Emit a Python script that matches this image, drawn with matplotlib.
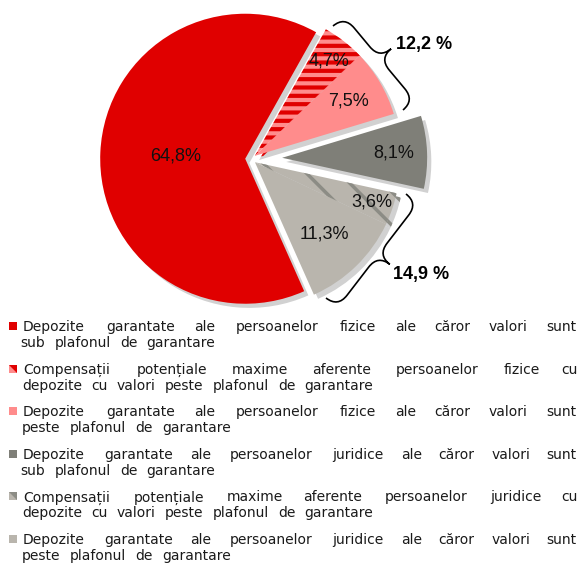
import numpy as np
import matplotlib
matplotlib.use("Agg")
import matplotlib.pyplot as plt
from matplotlib.patches import Rectangle, Polygon, PathPatch
from matplotlib.path import Path
import matplotlib.patheffects as pe
from matplotlib import font_manager

plt.rcParams['font.family'] = ['Liberation Sans', 'DejaVu Sans']
plt.rcParams['hatch.linewidth'] = 3.0

# ---------------- data ----------------
values = [64.8, 4.7, 7.5, 8.1, 3.6, 11.3]
value_labels = ["64,8%", "4,7%", "7,5%", "8,1%", "3,6%", "11,3%"]
legend_lines = [
    ["Depozite garantate ale persoanelor fizice ale căror valori sunt",
     "sub plafonul de garantare"],
    ["Compensații potențiale maxime aferente persoanelor fizice cu",
     "depozite cu valori peste plafonul de garantare"],
    ["Depozite garantate ale persoanelor fizice ale căror valori sunt",
     "peste plafonul de garantare"],
    ["Depozite garantate ale persoanelor juridice ale căror valori sunt",
     "sub plafonul de garantare"],
    ["Compensații potențiale maxime aferente persoanelor juridice cu",
     "depozite cu valori peste plafonul de garantare"],
    ["Depozite garantate ale persoanelor juridice ale căror valori sunt",
     "peste plafonul de garantare"],
]
groups = [[1, 2], [4, 5]]
group_labels = ["12,2 %", "14,9 %"]

# ---------------- style ----------------
face = ['#E00000', '#FF8C8C', '#FF8C8C', '#7F7F78', '#B9B5AD', '#B9B5AD']
hatches = [None, '--', None, None, '\\', None]
hatch_cols = [None, '#E00000', None, None, '#8C8C85', None]
offsets = [0.04, 0.035, 0.035, 0.215, 0.035, 0.035]
label_r = [0.48, 0.83, 0.75, 0.77, 0.85, 0.69]

W, H = 581, 565
fig = plt.figure(figsize=(W / 100, H / 100), dpi=100)

R = 145.0
cx, cy = 251.0, 159.0
ext = 1.6
ax = fig.add_axes([(cx - ext * R) / W, 1 - (cy + ext * R) / H,
                   2 * ext * R / W, 2 * ext * R / H])

wedges, _ = ax.pie(values, startangle=-66, counterclock=False, colors=face,
                   radius=1.0, wedgeprops=dict(linewidth=0))
ax.set_xlim(-ext, ext)
ax.set_ylim(-ext, ext)
ax.axis('off')

def span(idx):
    t1 = min(wedges[i].theta1 for i in idx)
    t2 = max(wedges[i].theta2 for i in idx)
    return 0.5 * (t1 + t2)

for i, w in enumerate(wedges):
    grp = [g for g in groups if i in g]
    ang = np.deg2rad(span(grp[0]) if grp else span([i]))
    d = offsets[i]
    w.set_center((d * np.cos(ang), d * np.sin(ang)))
    if hatches[i]:
        w.set_edgecolor(hatch_cols[i])
        w.set_linewidth(0)
        w.set_hatch(hatches[i])
        if i == 4:
            try:
                w.set_hatch_linewidth(2.5)
            except AttributeError:
                pass
    w.set_path_effects([pe.SimplePatchShadow(offset=(3, -3), shadow_rgbFace='0.55', alpha=0.4),
                        pe.Normal()])

for i, w in enumerate(wedges):
    ang = np.deg2rad(0.5 * (w.theta1 + w.theta2))
    c = w.center
    ax.text(c[0] + label_r[i] * np.cos(ang), c[1] + label_r[i] * np.sin(ang),
            value_labels[i], ha='center', va='center', fontsize=13,
            color='#111111', zorder=5)

# ---------------- overlay (braces, legend) ----------------
ov = fig.add_axes([0, 0, 1, 1])
ov.set_xlim(0, W)
ov.set_ylim(H, 0)
ov.axis('off')
ov.patch.set_visible(False)

def brace(p1, p2, a=15.0):
    p1 = np.array(p1, float); p2 = np.array(p2, float)
    L = np.linalg.norm(p2 - p1)
    u = (p2 - p1) / L
    v = np.array([u[1], -u[0]])
    def P(s, t):
        return p1 + s * u + t * v
    verts = [P(0, 0), P(0, a), P(a, a),
             P(L / 2 - a, a), P(L / 2, a), P(L / 2, 2 * a),
             P(L / 2, a), P(L / 2 + a, a),
             P(L - a, a), P(L, a), P(L, 0)]
    codes = [Path.MOVETO, Path.CURVE3, Path.CURVE3,
             Path.LINETO, Path.CURVE3, Path.CURVE3,
             Path.CURVE3, Path.CURVE3,
             Path.LINETO, Path.CURVE3, Path.CURVE3]
    ov.add_patch(PathPatch(Path(verts, codes), fill=False, lw=1.2, color='black'))

brace((333, 26), (403, 110))
brace((406, 194), (326, 298))

names = {f.name for f in font_manager.fontManager.ttflist}
if 'Liberation Sans Narrow' in names:
    bfam, bfs = ['Liberation Sans Narrow', 'Liberation Sans'], 15
else:
    bfam, bfs = ['Liberation Sans', 'DejaVu Sans'], 13
ov.text(424, 45, group_labels[0], ha='center', va='center', fontsize=bfs,
        fontweight='bold', family=bfam)
ov.text(421, 275, group_labels[1], ha='center', va='center', fontsize=bfs,
        fontweight='bold', family=bfam)

# legend
lfam = ['DejaVu Sans']
fs = 10.0
fs_px = fs * 100 / 72
ls = 0.75
x0, x1 = 20.0, 578.0
base0, dy_item, dy_line = 331.0, 42.6, 16.0
renderer = fig.canvas.get_renderer()
space = 0.318 * fs_px

def layout_line(text, y, justify):
    words = text.split(' ')
    objs, nat = [], []
    for wd in words:
        t = ov.text(0, y, wd, ha='center', va='baseline', fontsize=fs,
                    color='#1a1a1a', family=lfam)
        objs.append(t)
        nat.append(t.get_window_extent(renderer).width)
    adv = [n + len(wd) * ls for n, wd in zip(nat, words)]
    gap = space + ls
    total = sum(adv) - ls + gap * (len(words) - 1)
    if justify and len(words) > 1:
        gap += (x1 - x0 - total) / (len(words) - 1)
    x = x0
    for t, n, wd, a in zip(objs, nat, words, adv):
        t.set_x(x + (n + (len(wd) - 1) * ls) / 2)
        x += a + gap

for k, lines in enumerate(legend_lines):
    y = base0 + k * dy_item
    layout_line(lines[0], y, True)
    layout_line(lines[1], y + dy_line, False)
    sq = Rectangle((9, y - 9), 8, 8, facecolor=face[k], edgecolor='none')
    ov.add_patch(sq)
    if hatches[k]:
        ov.add_patch(Polygon([(9, y - 9), (9, y - 1), (17, y - 1)], closed=True,
                             facecolor=face[k], edgecolor='none'))
        sq.set_facecolor(hatch_cols[k])

fig.savefig('out.png', dpi=100)
